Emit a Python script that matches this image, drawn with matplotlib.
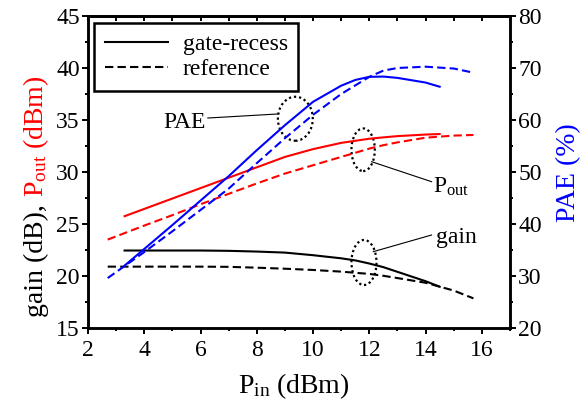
import matplotlib
matplotlib.use("Agg")
import matplotlib.pyplot as plt
from matplotlib.patches import Ellipse
from matplotlib.ticker import MultipleLocator

plt.rcParams["font.family"] = ["Liberation Serif", "DejaVu Serif"]
plt.rcParams["mathtext.fontset"] = "custom"
plt.rcParams["mathtext.rm"] = "Liberation Serif"
plt.rcParams["mathtext.it"] = "Liberation Serif:italic"

# gate-recess (solid lines)
pin_gr = [3.3, 4, 5, 6, 7, 8, 9, 10, 11, 11.5, 12, 12.5, 13, 14, 14.5]
gain_gr = [22.45, 22.45, 22.45, 22.45, 22.42, 22.35, 22.25, 22.0, 21.7, 21.5, 21.2, 20.85, 20.4, 19.5, 18.97]
pout_gr = [25.75, 26.45, 27.45, 28.45, 29.45, 30.45, 31.45, 32.2, 32.8, 33.0, 33.2, 33.33, 33.45, 33.6, 33.65]
pae_gr = [32.0, 35.2, 39.8, 44.5, 49.2, 54.2, 59.0, 63.5, 66.6, 67.7, 68.3, 68.35, 68.1, 67.2, 66.4]

# reference (dashed lines)
pin_ref = [2.7, 4, 5, 6, 7, 8, 9, 10, 11, 12, 12.5, 13, 14, 15, 15.7]
gain_ref = [20.9, 20.9, 20.9, 20.9, 20.88, 20.8, 20.7, 20.58, 20.42, 20.2, 20.02, 19.8, 19.35, 18.6, 17.85]
pout_ref = [23.5, 24.85, 25.85, 26.9, 27.9, 28.9, 29.85, 30.65, 31.45, 32.25, 32.58, 32.85, 33.3, 33.5, 33.56]
pae_ref = [29.6, 34.6, 38.6, 42.7, 46.8, 51.7, 56.5, 61.0, 65.0, 68.3, 69.5, 70.0, 70.25, 69.9, 69.1]

W, H = 587, 405
fig = plt.figure(figsize=(W / 100, H / 100), dpi=100)
ax = fig.add_axes([88 / W, 77 / H, 422 / W, 312 / H])
ax2 = ax.twinx()

dash = (0, (4, 2))
ax.plot(pin_gr, gain_gr, color="black", lw=1.5, label="gate-recess")
ax.plot(pin_ref, gain_ref, color="black", lw=1.5, ls=dash, label="reference")
ax.plot(pin_gr, pout_gr, color="red", lw=1.5)
ax.plot(pin_ref, pout_ref, color="red", lw=1.5, ls=dash)
ax2.plot(pin_gr, pae_gr, color="blue", lw=1.5)
ax2.plot(pin_ref, pae_ref, color="blue", lw=1.5, ls=dash)

ax.set_xlim(2, 17)
ax.set_ylim(15, 45)
ax2.set_ylim(20, 80)
ax.xaxis.set_major_locator(MultipleLocator(2))
ax.xaxis.set_minor_locator(MultipleLocator(1))
ax.yaxis.set_major_locator(MultipleLocator(5))
ax.yaxis.set_minor_locator(MultipleLocator(2.5))
ax2.yaxis.set_major_locator(MultipleLocator(10))
ax2.yaxis.set_minor_locator(MultipleLocator(5))

ax.tick_params(which="both", direction="out", top=False, right=False,
               labelsize=17, width=1.4, pad=1.5)
ax.tick_params(which="major", length=4.5)
ax.tick_params(which="minor", length=2.5)
ax.tick_params(axis="x", pad=4)
ax2.tick_params(which="both", direction="out", labelsize=17, width=1.4, pad=1.5)
ax2.tick_params(which="major", length=4.5)
ax2.tick_params(which="minor", length=2.5)

top = ax.secondary_xaxis("top")
top.xaxis.set_major_locator(MultipleLocator(2))
top.xaxis.set_minor_locator(MultipleLocator(1))
top.tick_params(which="both", direction="in", labeltop=False, length=3.5, width=1.4)

for a in (ax, ax2):
    for s in a.spines.values():
        s.set_linewidth(1.8)
top.spines["top"].set_linewidth(1.8)

# legend
leg = ax.legend(loc="upper left", bbox_to_anchor=(94 / W, 1 - 23 / H),
                bbox_transform=fig.transFigure, borderaxespad=0, fontsize=17,
                fancybox=False, edgecolor="black", framealpha=1,
                handlelength=2.7, handletextpad=0.6, borderpad=0.45,
                labelspacing=0.15)
leg.get_frame().set_linewidth(1.8)

# dotted ellipses and leader lines
ell = dict(fill=False, ls=(0, (1, 1.3)), lw=1.6, color="black")
ax.add_patch(Ellipse((9.37, 35.12), 1.24, 4.23, **ell))
ax.add_patch(Ellipse((11.78, 32.14), 0.83, 4.1, **ell))
ax.add_patch(Ellipse((11.81, 21.30), 0.89, 4.33, **ell))
ax.plot([6.26, 8.75], [35.19, 35.58], color="black", lw=0.8)
ax.plot([12.08, 14.21], [30.99, 29.07], color="black", lw=0.8)
ax.plot([12.14, 14.21], [22.34, 23.94], color="black", lw=0.8)
ax.text(4.67, 34.23, "PAE", fontsize=17, va="baseline")
ax.text(14.26, 27.98, r"P$_{\mathrm{out}}$", fontsize=17, va="baseline")
ax.text(14.38, 23.17, "gain", fontsize=17, va="baseline")

# axis labels
fig.text(294 / W, 12 / H, r"P$_{\mathrm{in}}$ (dBm)", fontsize=20,
         ha="center", va="baseline")
t1 = fig.text(43 / W, 88 / H, "gain (dB),", fontsize=20, rotation=90,
              rotation_mode="anchor", ha="left", va="baseline")
fig.canvas.draw()
bb = t1.get_window_extent()
fig.text(43 / W, (bb.y1 + 7) / H, r"P$_{\mathrm{out}}$ (dBm)", fontsize=20,
         color="red", rotation=90, rotation_mode="anchor", ha="left",
         va="baseline")
fig.text(575 / W, 1 - 172.5 / H, "PAE (%)", fontsize=20, color="blue",
         rotation=90, rotation_mode="anchor", ha="center", va="baseline")

fig.savefig("out.png", dpi=100)
